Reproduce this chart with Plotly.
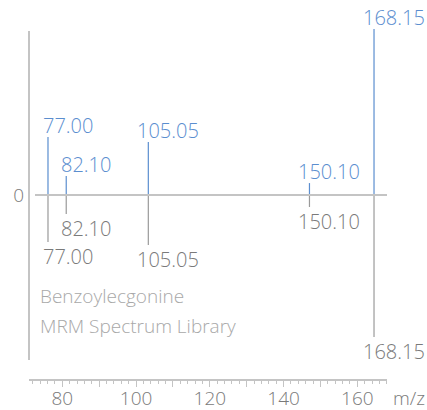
import plotly.graph_objects as go

# Mirror spectrum: acquired spectrum above the baseline, library spectrum below
mz = [77.00, 82.10, 105.05, 150.10, 168.15]
acquired_intensity = [35.0, 11.5, 32.0, 7.2, 100.0]
library_intensity = [28.3, 11.4, 30.1, 7.2, 85.5]

compound = "Benzoylecgonine"
library_name = "MRM Spectrum Library"

mz_ticks = [80, 90, 100, 110, 120, 130, 140, 150, 160]
mz_tick_text = ["80", "", "100", "", "120", "", "140", "", "160"]

BLUE = "#5b8ecf"
GRAY_LINE = "#9a9a9a"
GRAY_TEXT = "#7a7a7a"
AXIS = "#c4c4c4"
NOTE = "#a8a8a8"
FONT = "Open Sans"
W, H = 427, 410
ML, MR, MT, MB = 29, 40, 25, 30


def stems(xs, ys):
    sx, sy = [], []
    for x, y in zip(xs, ys):
        sx += [x, x, None]
        sy += [0, y, None]
    return sx, sy


fig = go.Figure()

ax, ay = stems(mz, acquired_intensity)
fig.add_trace(go.Scatter(x=ax, y=ay, mode="lines", line=dict(color=BLUE, width=1.2),
                         hoverinfo="skip", showlegend=False))
lx, ly = stems(mz, [-v for v in library_intensity])
fig.add_trace(go.Scatter(x=lx, y=ly, mode="lines", line=dict(color=GRAY_LINE, width=1.2),
                         hoverinfo="skip", showlegend=False))
# carrier trace for the m/z scale axis
fig.add_trace(go.Scatter(x=mz, y=[None] * len(mz), xaxis="x2", mode="lines",
                         hoverinfo="skip", showlegend=False))

annotations = []
for m, v in zip(mz, acquired_intensity):
    annotations.append(dict(x=m, y=v, xref="x", yref="y", text=f"{m:.2f}",
                            showarrow=False, xanchor="center", yanchor="bottom",
                            xshift=20, yshift=-4,
                            font=dict(family=FONT, size=20, color=BLUE, weight=300)))
for m, v in zip(mz, library_intensity):
    annotations.append(dict(x=m, y=-v, xref="x", yref="y", text=f"{m:.2f}",
                            showarrow=False, xanchor="center", yanchor="top",
                            xshift=20, yshift=1,
                            font=dict(family=FONT, size=20, color=GRAY_TEXT, weight=300)))

pw, ph = W - ML - MR, H - MT - MB


def px_x(p):
    return (p - ML) / pw


def px_y(p):
    return (H - MB - p) / ph


annotations.append(dict(x=px_x(38), y=px_y(296), xref="paper", yref="paper",
                        text=compound, showarrow=False, xanchor="left", yanchor="middle",
                        font=dict(family=FONT, size=19, color=NOTE, weight=300)))
annotations.append(dict(x=px_x(38), y=px_y(326), xref="paper", yref="paper",
                        text=library_name, showarrow=False, xanchor="left", yanchor="middle",
                        font=dict(family=FONT, size=19, color=NOTE, weight=300)))
annotations.append(dict(x=px_x(391), y=px_y(398), xref="paper", yref="paper",
                        text="m/z", showarrow=False, xanchor="left", yanchor="middle",
                        font=dict(family=FONT, size=19, color=GRAY_TEXT, weight=300)))

shapes = [
    # vertical intensity axis
    dict(type="line", xref="paper", yref="paper", x0=0, x1=0, y0=px_y(360), y1=px_y(31),
         line=dict(color=AXIS, width=2)),
    # baseline
    dict(type="line", xref="paper", yref="y", x0=px_x(35), x1=1, y0=0, y1=0,
         line=dict(color=AXIS, width=2)),
]

fig.update_layout(
    width=W, height=H,
    margin=dict(l=ML, r=MR, t=MT, b=MB, autoexpand=False),
    paper_bgcolor="white", plot_bgcolor="white",
    xaxis=dict(range=[71.69, 171.78], visible=False, fixedrange=True, automargin=False),
    xaxis2=dict(range=[70.95, 168.05], overlaying="x", anchor="free", position=0,
                side="bottom", domain=[px_x(32), px_x(384)], automargin=False,
                showline=True, linecolor=AXIS, linewidth=1.5,
                showgrid=False, zeroline=False,
                tickmode="array", tickvals=mz_ticks, ticktext=mz_tick_text,
                ticks="outside", ticklen=6, tickwidth=1, tickcolor=AXIS,
                minor=dict(dtick=2, ticks="outside", ticklen=3, tickcolor=AXIS, tickwidth=1),
                ticklabelstandoff=-5,
                tickfont=dict(family=FONT, size=19, color=GRAY_TEXT, weight=300)),
    yaxis=dict(range=[-111.4, 102.4], showgrid=False, zeroline=False, showline=False,
               automargin=False,
               tickmode="array", tickvals=[0], ticktext=["0"], ticks="",
               ticklabelstandoff=4,
               tickfont=dict(family=FONT, size=19, color=GRAY_TEXT, weight=300)),
    annotations=annotations,
    shapes=shapes,
)

fig.write_html("out.html")
